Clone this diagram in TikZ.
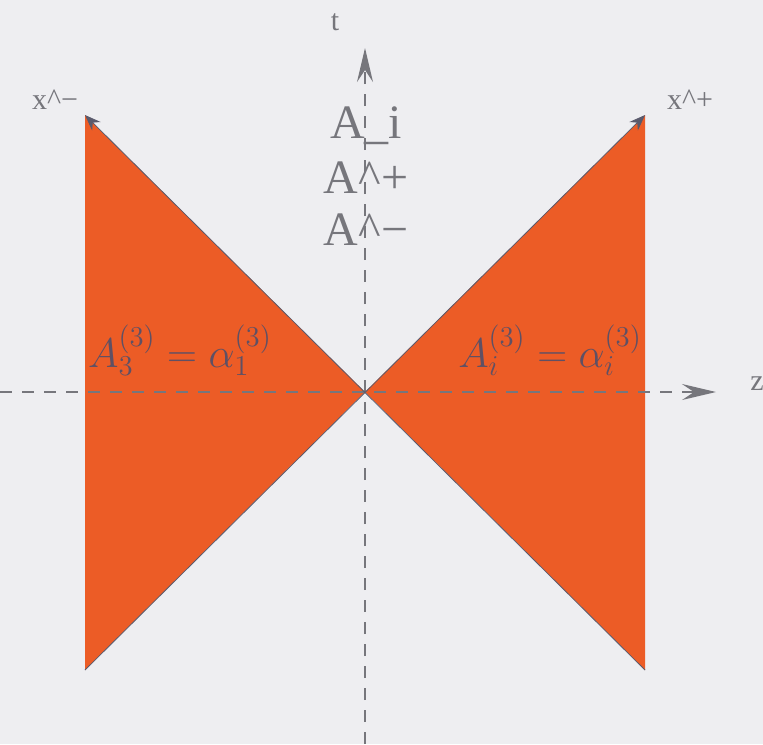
\documentclass[tikz,border=0pt]{standalone}
\usepackage{fontspec}
\setmainfont{Liberation Serif}
\usetikzlibrary{arrows.meta}
\definecolor{bg}{RGB}{238,238,241}
\definecolor{cone}{RGB}{236,92,38}
\definecolor{ink}{RGB}{118,118,124}
\definecolor{deep}{RGB}{95,80,100}
\definecolor{edge}{RGB}{90,90,108}
\tikzset{
  axis/.style={ink, dash pattern=on 6pt off 5pt, thick, -{Stealth[length=17pt,width=8pt,inset=6pt]}},
  lbl/.style={ink, font=\fontsize{24}{28}\selectfont},
  tag/.style={ink, font=\fontsize{15}{18}\selectfont},
  mlbl/.style={deep, font=\fontsize{21}{25}\selectfont},
}
\begin{document}
\begin{tikzpicture}[x=0.5pt,y=-0.5pt]
    \fill[bg] (0,0) rectangle (763,744);
    \useasboundingbox (0,0) rectangle (763,744);
    % Cone corners
    \coordinate (o) at (365,392);
    \coordinate (ul) at (85,115);
    \coordinate (dl) at (85,670);
    \coordinate (ur) at (645,115);
    \coordinate (dr) at (645,670);
    \fill[cone] (o) -- (ul) -- (dl) -- cycle;
    \fill[cone] (o) -- (ur) -- (dr) -- cycle;
    % Axes
    \coordinate (tb) at (365,744);
    \coordinate (tt) at (365,48);
    \coordinate (zl) at (0,392);
    \coordinate (zr) at (716,392);
    \draw[axis] (zl) -- (zr);
    \draw[axis] (tb) -- (tt);
    \node[tag] (t) at (335,22) {t};
    \node[tag] (z) at (757,384) {z};
    % Light-cone directions
    \draw[edge, -{Stealth[length=8pt,width=6pt]}] (dr) -- (ul);
    \draw[edge, -{Stealth[length=8pt,width=6pt]}] (dl) -- (ur);
    \node[tag] (xm) at (55,100) {x\textasciicircum−};
    \node[tag] (xp) at (690,100) {x\textasciicircum+};
    % Fields
    \node[lbl] (ai) at (366,126) {A\_i};
    \node[lbl] (ap) at (366,178) {A\textasciicircum+};
    \node[lbl] (am) at (366,230) {A\textasciicircum−};
    \node[mlbl] (lc) at (180,350) {$A^{(3)}_3=\alpha^{(3)}_1$};
    \node[mlbl] (rc) at (550,350) {$A^{(3)}_i=\alpha^{(3)}_i$};
\end{tikzpicture}
\end{document}
